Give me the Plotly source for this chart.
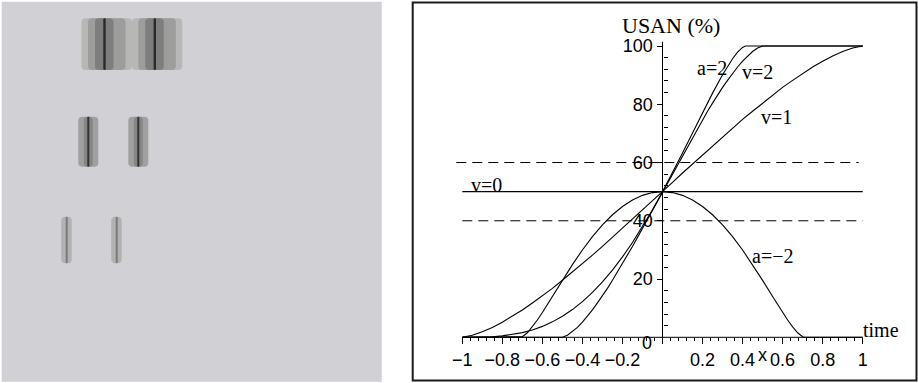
import plotly.graph_objects as go

W, H = 918, 383

# ---------------- data ----------------
time_v0 = [-1.0, 1.0]
usan_v0 = [50.0, 50.0]

time_v1 = [-1.00, -0.95, -0.90, -0.85, -0.80, -0.75, -0.70, -0.65, -0.60, -0.55,
           -0.50, -0.45, -0.40, -0.35, -0.30, -0.25, -0.20, -0.15, -0.10, -0.05,
           0.00, 0.05, 0.10, 0.15, 0.20, 0.25, 0.30, 0.35, 0.40, 0.45,
           0.50, 0.55, 0.60, 0.65, 0.70, 0.75, 0.80, 0.85, 0.90, 0.95, 1.00]
usan_v1 = [0.0, 0.7, 1.9, 3.4, 5.2, 7.2, 9.4, 11.8, 14.2, 16.8,
           19.6, 22.4, 25.2, 28.2, 31.2, 34.3, 37.4, 40.5, 43.6, 46.8,
           50.0, 53.2, 56.4, 59.5, 62.6, 65.7, 68.8, 71.8, 74.8, 77.6,
           80.4, 83.2, 85.8, 88.2, 90.6, 92.8, 94.8, 96.6, 98.1, 99.3, 100.0]

time_v2 = [-1.0, -0.5, -0.475, -0.45, -0.425, -0.4, -0.375, -0.35, -0.325, -0.3, -0.275,
           -0.25, -0.225, -0.2, -0.175, -0.15, -0.125, -0.1, -0.075, -0.05, -0.025,
           0.0, 0.025, 0.05, 0.075, 0.1, 0.125, 0.15, 0.175, 0.2, 0.225,
           0.25, 0.275, 0.3, 0.325, 0.35, 0.375, 0.4, 0.425, 0.45, 0.475, 0.5, 1.0]
usan_v2 = [0.0, 0.0, 0.7, 1.9, 3.4, 5.2, 7.2, 9.4, 11.8, 14.2, 16.8,
           19.6, 22.4, 25.2, 28.2, 31.2, 34.3, 37.4, 40.5, 43.6, 46.8,
           50.0, 53.2, 56.4, 59.5, 62.6, 65.7, 68.8, 71.8, 74.8, 77.6,
           80.4, 83.2, 85.8, 88.2, 90.6, 92.8, 94.8, 96.6, 98.1, 99.3, 100.0, 100.0]

time_a2 = [-1.0, -0.95, -0.9, -0.85, -0.8, -0.75, -0.7, -0.65, -0.6, -0.55,
           -0.5, -0.45, -0.4, -0.35, -0.3, -0.25, -0.2, -0.15, -0.1, -0.05,
           0.0, 0.05, 0.1, 0.15, 0.2, 0.25, 0.3, 0.35, 0.375, 0.4, 0.414, 1.0]
usan_a2 = [0.0, 0.01, 0.06, 0.2, 0.48, 0.93, 1.6, 2.53, 3.75, 5.3,
           7.21, 9.52, 12.24, 15.4, 19.0, 23.06, 27.59, 32.56, 37.98, 43.8,
           50.0, 56.51, 63.27, 70.17, 77.08, 83.82, 90.14, 95.63, 97.87, 99.52, 100.0, 100.0]

time_am2 = [-1.0, -0.707, -0.7, -0.675, -0.65, -0.625, -0.6, -0.55, -0.5, -0.45, -0.4,
            -0.35, -0.3, -0.25, -0.2, -0.15, -0.1, -0.05, 0.0,
            0.05, 0.1, 0.15, 0.2, 0.25, 0.3, 0.35, 0.4, 0.45, 0.5,
            0.55, 0.6, 0.625, 0.65, 0.675, 0.7, 0.707, 1.0]
usan_am2 = [0.0, 0.0, 0.17, 1.56, 3.58, 5.94, 8.51, 13.98, 19.55, 24.94, 29.98,
            34.56, 38.6, 42.06, 44.91, 47.14, 48.73, 49.68, 50.0,
            49.68, 48.73, 47.14, 44.91, 42.06, 38.6, 34.56, 29.98, 24.94, 19.55,
            13.98, 8.51, 5.94, 3.58, 1.56, 0.17, 0.0, 0.0]

thresh_hi_x = [-1.03, 0.98]
thresh_hi_y = [60.0, 60.0]
thresh_lo_x = [-1.0, 1.0]
thresh_lo_y = [40.0, 40.0]

x_ticks = [-1.0, -0.8, -0.6, -0.4, -0.2, 0.0, 0.2, 0.4, 0.6, 0.8, 1.0]
x_ticktext = ["\u22121", "\u22120.8", "\u22120.6", "\u22120.4", "\u22120.2", "", "0.2", "0.4", "0.6", "0.8", "1"]
y_ticks = [20, 40, 60, 80, 100]
y_ticktext = ["20", "40", "60", "80", "100"]

curve_labels = ["USAN (%)", "a=2", "v=2", "v=1", "v=0", "a=\u22122", "time"]
label_x = [0.0425, 0.246, 0.476, 0.571, -0.879, 0.551, 1.091]
label_y = [107.2, 92.3, 91.2, 75.7, 52.3, 27.9, 2.5]

# left panel: blurred edge image (pixel coords inside the image)
edge_x_rows = [[104.5, 154.8], [88.3, 138.3], [66.7, 116.7]]
row_top = [18.3, 116.7, 216.7]
row_bottom = [70.0, 166.7, 263.3]
row_stripes = [
    [(-23.0, 27.5, "#b7b8b6"), (-16.5, 21.0, "#9d9d9c"), (-9.5, 9.0, "#7e7e7e"), (-1.2, 1.2, "#2a2a2a")],
    [(-10.0, 10.0, "#a0a0a0"), (-4.5, 4.5, "#868686"), (-1.0, 1.0, "#333333")],
    [(-5.5, 5.0, "#b2b2b2"), (-1.0, 1.0, "#7a7a7a")],
]

# ---------------- figure ----------------
fig = go.Figure()

line_style = dict(color="black", width=1.1)
for xs, ys in [(time_v0, usan_v0), (time_v1, usan_v1), (time_v2, usan_v2),
               (time_a2, usan_a2), (time_am2, usan_am2)]:
    fig.add_trace(go.Scatter(x=xs, y=ys, mode="lines", line=line_style,
                             showlegend=False, hoverinfo="skip"))

for xs, ys in [(thresh_hi_x, thresh_hi_y), (thresh_lo_x, thresh_lo_y)]:
    fig.add_trace(go.Scatter(x=xs, y=ys, mode="lines",
                             line=dict(color="black", width=1, dash="10px,6px"),
                             showlegend=False, hoverinfo="skip"))

# dummy trace for image axes
fig.add_trace(go.Scatter(x=[10], y=[10], xaxis="x2", yaxis="y2", mode="markers",
                         marker=dict(opacity=0), showlegend=False, hoverinfo="skip"))

# geometry (pixels)
px_per_x = 200.2
x_left_px = 462.3
xmin, xmax = -1.08, 1.2
plot_l = x_left_px - (-1.0 - xmin) * px_per_x
plot_w = (xmax - xmin) * px_per_x
px_per_y = 2.913
y0_px = 337.3
ymin, ymax = -8.0, 110.0
plot_top = y0_px - ymax * px_per_y
plot_bot = y0_px - ymin * px_per_y

xdom = [plot_l / W, (plot_l + plot_w) / W]
ydom = [(H - plot_bot) / H, (H - plot_top) / H]

minor_x = [round(-1 + 0.04 * k, 2) for k in range(51)]
minor_x = [v for v in minor_x if abs(round(v / 0.2) * 0.2 - v) > 1e-6]
minor_y = [4 * k for k in range(1, 26) if (4 * k) % 20 != 0]

tickfont = dict(family="Liberation Sans, Arial, sans-serif", size=18, color="black")

fig.update_layout(
    width=W, height=H,
    margin=dict(l=0, r=0, t=0, b=0, autoexpand=False),
    paper_bgcolor="white", plot_bgcolor="rgba(0,0,0,0)",
    showlegend=False,
    xaxis=dict(domain=xdom, range=[xmin, xmax], anchor="free",
               position=(H - y0_px) / H,
               showline=False, showgrid=False, zeroline=False,
               ticks="outside", ticklen=6, tickwidth=1, tickcolor="black",
               tickmode="array", tickvals=x_ticks, ticktext=x_ticktext,
               tickfont=tickfont,
               minor=dict(tickmode="array", tickvals=minor_x, ticks="outside",
                          ticklen=3, tickcolor="black", showgrid=False)),
    yaxis=dict(domain=ydom, range=[ymin, ymax], anchor="free",
               position=(x_left_px + px_per_x) / W,
               showline=False, showgrid=False, zeroline=False,
               ticks="outside", ticklen=6, tickwidth=1, tickcolor="black",
               tickmode="array", tickvals=y_ticks, ticktext=y_ticktext,
               tickfont=tickfont,
               minor=dict(tickmode="array", tickvals=minor_y, ticks="inside",
                          ticklen=4, tickcolor="black", showgrid=False)),
    xaxis2=dict(domain=[1.7 / W, 381.7 / W], range=[1.7, 381.7], visible=False,
                anchor="y2"),
    yaxis2=dict(domain=[1.3 / H, 381.3 / H], range=[381.7, 1.7], visible=False,
                anchor="x2"),
)


def rounded_rect(x0, x1, y0, y1, r):
    r = min(r, (x1 - x0) / 2.0, (y1 - y0) / 2.0)
    return (f"M {x0 + r},{y0} L {x1 - r},{y0} Q {x1},{y0} {x1},{y0 + r} "
            f"L {x1},{y1 - r} Q {x1},{y1} {x1 - r},{y1} L {x0 + r},{y1} "
            f"Q {x0},{y1} {x0},{y1 - r} L {x0},{y0 + r} Q {x0},{y0} {x0 + r},{y0} Z")


shapes = []
# left panel background
shapes.append(dict(type="rect", xref="paper", yref="paper",
                   x0=1.7 / W, x1=381.7 / W, y0=1.3 / H, y1=381.3 / H,
                   fillcolor="#d1d1d5", line=dict(width=0), layer="below"))
for r, xs in enumerate(edge_x_rows):
    for ex in xs:
        for (a, b, col) in row_stripes[r]:
            shapes.append(dict(type="path", xref="x2", yref="y2",
                               path=rounded_rect(ex + a, ex + b, row_top[r], row_bottom[r], 4.0),
                               fillcolor=col, line=dict(width=0), layer="above"))
# right panel frame
shapes.append(dict(type="rect", xref="paper", yref="paper",
                   x0=412.7 / W, x1=916.5 / W, y0=2.5 / H, y1=380.5 / H,
                   line=dict(color="#1a1a1a", width=2), fillcolor="rgba(0,0,0,0)"))
# axis lines
shapes.append(dict(type="line", xref="x", yref="y", x0=-1.0, x1=1.0, y0=0, y1=0,
                   line=dict(color="black", width=1)))
shapes.append(dict(type="line", xref="x", yref="y", x0=0, x1=0, y0=-2.0, y1=101.5,
                   line=dict(color="black", width=1)))
fig.update_layout(shapes=shapes)

serif = "Liberation Serif, Times New Roman, serif"
annotations = []
for txt, lx, ly in zip(curve_labels, label_x, label_y):
    annotations.append(dict(x=lx, y=ly, xref="x", yref="y", text=txt, showarrow=False,
                            font=dict(family=serif,
                                      size=22 if txt.startswith("USAN") else 20,
                                      color="black")))
annotations.append(dict(x=0.501, y=-6.0, xref="x", yref="y", text="x", showarrow=False,
                        font=tickfont))
annotations.append(dict(x=-0.079, y=-2.1, xref="x", yref="y", text="0", showarrow=False,
                        font=tickfont))
fig.update_layout(annotations=annotations)

fig.write_html("out.html",
               config={"displayModeBar": False},
               post_script="document.body.style.margin='0';document.body.style.padding='0';"
                           "document.documentElement.style.overflow='hidden';")
